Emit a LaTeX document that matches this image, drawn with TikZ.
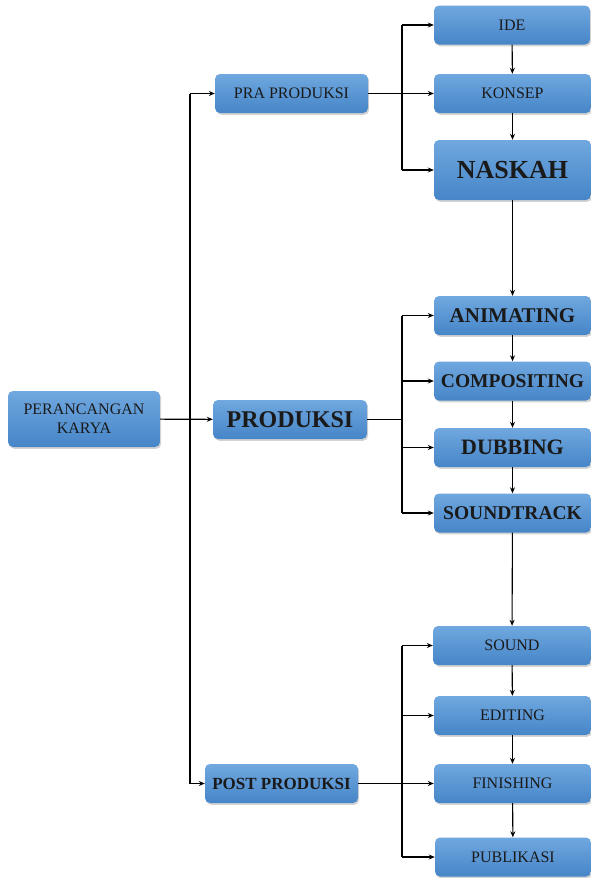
\documentclass[tikz,border=0pt]{standalone}
\usepackage{fontspec}
\setmainfont{Liberation Serif}
\usepackage{tikz}
\usetikzlibrary{arrows.meta,shadows}

\definecolor{boxtop}{HTML}{70A8DF}
\definecolor{boxbot}{HTML}{4685C8}
\definecolor{boxtext}{HTML}{1A1A1A}

\tikzset{
	box/.style={rounded corners=5pt,top color=boxtop,bottom color=boxbot,draw=none,
		drop shadow={opacity=0.35,shadow xshift=1.2pt,shadow yshift=-1.8pt},
		minimum width=155pt,minimum height=39pt,inner sep=0pt,text=boxtext,align=center},
	lbl/.style={font=\fontsize{16}{19}\selectfont},
	big/.style={font=\fontsize{#1}{#1}\selectfont\bfseries},
	arr/.style={-{Stealth[length=6pt,width=5pt]},line width=1.1pt},
	ln/.style={line width=1.1pt}
}

\begin{document}
\begin{tikzpicture}[x=1pt,y=-1pt]
	\useasboundingbox (0,0) rectangle (591,878);

	\node[box,lbl,minimum width=152pt,minimum height=56pt] (karya) at (84,419) {PERANCANGAN\\KARYA};
	\node[box,lbl,minimum width=153pt] (pra)  at (291.5,93.5)  {PRA PRODUKSI};
	\node[box,big=24,minimum width=154pt] (prod) at (290,419.5) {PRODUKSI};
	\node[box,big=17,minimum width=153pt] (post) at (281.5,783.5) {POST PRODUKSI};

	\node[box,lbl,minimum width=156pt] (ide)    at (512,25)    {IDE};
	\node[box,lbl,minimum width=157pt] (konsep) at (512.5,93.5) {KONSEP};
	\node[box,big=26,minimum width=157pt,minimum height=60pt] (naskah) at (512.5,170) {NASKAH};

	\node[box,big=21,minimum width=157pt] (anim) at (512.5,315.5) {ANIMATING};
	\node[box,big=19.5,minimum width=157pt] (comp) at (512.5,381) {COMPOSITING};
	\node[box,big=22,minimum width=157pt] (dub)  at (512.5,447.5) {DUBBING};
	\node[box,big=19.5,minimum width=157pt] (strk) at (512.5,513) {SOUNDTRACK};

	\node[box,lbl,minimum width=158pt] (sound) at (512,645.5) {SOUND};
	\node[box,lbl,minimum width=157pt] (edit)  at (512.5,715.5) {EDITING};
	\node[box,lbl,minimum width=157pt] (fin)   at (512.5,783.5) {FINISHING};
	\node[box,lbl,minimum width=156pt] (pub)   at (513,857)   {PUBLIKASI};

	\coordinate (m) at (190,0);
	\coordinate (r) at (402,0);

	\draw[ln] (m |- pra) -- (m |- post);
	\draw[arr] (karya) -- (prod);
	\draw[arr] (m |- pra) -- (pra);
	\draw[arr] (m |- post) -- (post);

	\draw[ln] (r |- ide) -- (r |- naskah);
	\draw[arr] (pra) -- (konsep);
	\draw[arr] (r |- ide) -- (ide);
	\draw[arr] (r |- naskah) -- (naskah);
	\draw[arr] (ide) -- (konsep);
	\draw[arr] (konsep) -- (naskah);
	\draw[arr] (naskah) -- (anim);

	\draw[ln] (r |- anim) -- (r |- strk);
	\draw[ln] (prod) -- (r |- prod);
	\draw[arr] (r |- anim) -- (anim);
	\draw[arr] (r |- comp) -- (comp);
	\draw[arr] (r |- dub) -- (dub);
	\draw[arr] (r |- strk) -- (strk);
	\draw[arr] (anim) -- (comp);
	\draw[arr] (comp) -- (dub);
	\draw[arr] (dub) -- (strk);
	\draw[arr] (strk) -- (sound);

	\draw[ln] (r |- sound) -- (r |- pub);
	\draw[arr] (post) -- (fin);
	\draw[arr] (r |- sound) -- (sound);
	\draw[arr] (r |- edit) -- (edit);
	\draw[arr] (r |- pub) -- (pub);
	\draw[arr] (sound) -- (edit);
	\draw[arr] (edit) -- (fin);
	\draw[arr] (fin) -- (pub);
\end{tikzpicture}
\end{document}
